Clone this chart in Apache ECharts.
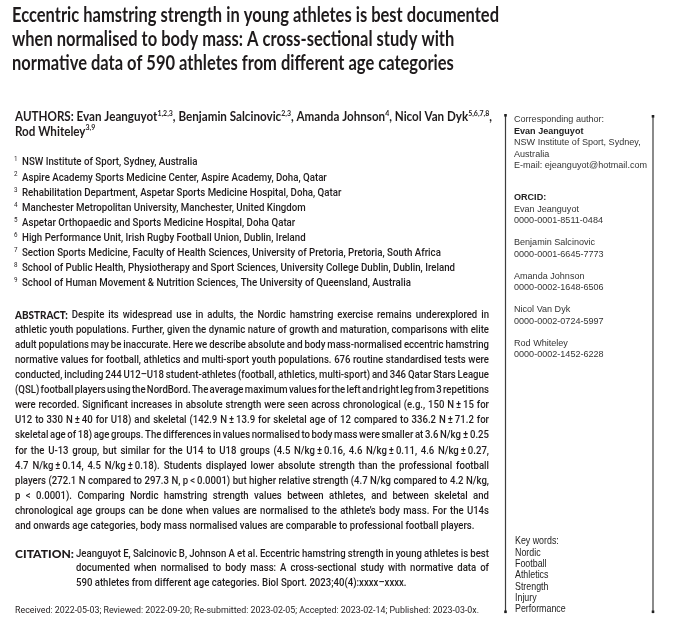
<!DOCTYPE html>
<html><head><meta charset="utf-8">
<script src="https://cdn.jsdelivr.net/npm/echarts@6/dist/echarts.min.js"></script>
<style>html,body{margin:0;padding:0;background:#fff}#c{width:680px;height:633px}</style>
</head><body><div id="c"></div>
<script>
// ---------- content ----------
const titleLines = [
  'Eccentric hamstring strength in young athletes is best documented',
  'when normalised to body mass: A cross-sectional study with',
  'normative data of 590 athletes from different age categories'
];
const authorLines = [
  'AUTHORS: Evan Jeanguyot^{1,2,3}, Benjamin Salcinovic^{2,3}, Amanda Johnson^{4}, Nicol Van Dyk^{5,6,7,8},',
  'Rod Whiteley^{3,9}'
];
const affiliations = [
  'NSW Institute of Sport, Sydney, Australia',
  'Aspire Academy Sports Medicine Center, Aspire Academy, Doha, Qatar',
  'Rehabilitation Department, Aspetar Sports Medicine Hospital, Doha, Qatar',
  'Manchester Metropolitan University, Manchester, United Kingdom',
  'Aspetar Orthopaedic and Sports Medicine Hospital, Doha Qatar',
  'High Performance Unit, Irish Rugby Football Union, Dublin, Ireland',
  'Section Sports Medicine, Faculty of Health Sciences, University of Pretoria, Pretoria, South Africa',
  'School of Public Health, Physiotherapy and Sport Sciences, University College Dublin, Dublin, Ireland',
  'School of Human Movement & Nutrition Sciences, The University of Queensland, Australia'
];
const abstractLines = [
  'ABSTRACT: Despite its widespread use in adults, the Nordic hamstring exercise remains underexplored in',
  'athletic youth populations. Further, given the dynamic nature of growth and maturation, comparisons with elite',
  'adult populations may be inaccurate. Here we describe absolute and body mass-normalised eccentric hamstring',
  'normative values for football, athletics and multi-sport youth populations. 676 routine standardised tests were',
  'conducted, including 244 U12\u2013U18 student-athletes (football, athletics, multi-sport) and 346 Qatar Stars League',
  '(QSL) football players using the NordBord. The average maximum values for the left and right leg from 3 repetitions',
  'were recorded. Significant increases in absolute strength were seen across chronological (e.g., 150 N\u2009\u00b1\u200915 for',
  'U12 to 330 N\u2009\u00b1\u200940 for U18) and skeletal (142.9 N\u2009\u00b1\u200913.9 for skeletal age of 12 compared to 336.2 N\u2009\u00b1\u200971.2 for',
  'skeletal age of 18) age groups. The differences in values normalised to body mass were smaller at 3.6 N/kg\u2009\u00b1\u20090.25',
  'for the U-13 group, but similar for the U14 to U18 groups (4.5 N/kg\u2009\u00b1\u20090.16, 4.6 N/kg\u2009\u00b1\u20090.11, 4.6 N/kg\u2009\u00b1\u20090.27,',
  '4.7 N/kg\u2009\u00b1\u20090.14, 4.5 N/kg\u2009\u00b1\u20090.18). Students displayed lower absolute strength than the professional football',
  'players (272.1 N compared to 297.3 N, p\u2009<\u20090.0001) but higher relative strength (4.7 N/kg compared to 4.2 N/kg,',
  'p < 0.0001). Comparing Nordic hamstring strength values between athletes, and between skeletal and',
  'chronological age groups can be done when values are normalised to the athlete\u2019s body mass. For the U14s',
  'and onwards age categories, body mass normalised values are comparable to professional football players.'
];
const citationLabel = 'CITATION:';
const citationLines = [
  'Jeanguyot E, Salcinovic B, Johnson A et al. Eccentric hamstring strength in young athletes is best',
  'documented when normalised to body mass: A cross-sectional study with normative data of',
  '590 athletes from different age categories. Biol Sport. 2023;40(4):xxxx\u2013xxxx.'
];
const receivedLine = 'Received: 2022-05-03; Reviewed: 2022-09-20; Re-submitted: 2023-02-05; Accepted: 2023-02-14; Published: 2023-03-0x.';
const correspondingLabel = 'Corresponding author:';
const correspondingName = 'Evan Jeanguyot';
const correspondingAddress = ['NSW Institute of Sport, Sydney,', 'Australia', 'E-mail: ejeanguyot@hotmail.com'];
const orcidLabel = 'ORCID:';
const orcidNames = ['Evan Jeanguyot', 'Benjamin Salcinovic', 'Amanda Johnson', 'Nicol Van Dyk', 'Rod Whiteley'];
const orcidIds = ['0000-0001-8511-0484', '0000-0001-6645-7773', '0000-0002-1648-6506', '0000-0002-0724-5997', '0000-0002-1452-6228'];
const keywordsLabel = 'Key words:';
const keywords = ['Nordic', 'Football', 'Athletics', 'Strength', 'Injury', 'Performance'];

// ---------- helpers ----------
const INK = '#1f1b1c';
const GREY = '#333333';
const F = {
  title: {family: 'Lato', weight: 'bold', size: 20},
  auth:  {family: 'Lato', weight: 'bold', size: 12.5},
  authSup: {family: 'Lato', weight: 'bold', size: 7.5},
  body:  {family: 'Roboto', weight: '500', size: 11.6},
  label: {family: 'Lato', weight: '900', size: 12},
  sup:   {family: 'Roboto', weight: 'normal', size: 7.5},
  small: {family: 'Roboto', weight: 'normal', size: 9.4},
  side:  {family: "'Liberation Sans'", weight: 'normal', size: 9.4},
  sideB: {family: "'Liberation Sans'", weight: 'bold', size: 9.4},
  kw:    {family: "'Liberation Sans'", weight: 'normal', size: 10.8}
};
const ctx = document.createElement('canvas').getContext('2d');
function fstr(f) { return 'normal ' + f.weight + ' ' + f.size + 'px ' + f.family; }
function mw(t, f) { ctx.font = fstr(f); return ctx.measureText(t).width; }

const els = [];
function txt(x, y, t, f, scale, color) {
  els.push({
    type: 'text', x: x, y: y, scaleX: scale, silent: true,
    style: {text: t, x: 0, y: 0, fontSize: f.size, fontFamily: f.family, fontWeight: f.weight,
            fill: color || INK, align: 'left', verticalAlign: 'middle'}
  });
}
// word -> segments (supports ^{...} superscripts and an UPPERCASE label)
function segs(word, base, sup, label, supRaise) {
  if (label && /^[A-Z]+:$/.test(word)) return [{t: word, f: label, dy: 0}];
  const out = []; const re = /\^\{([^}]*)\}/g; let last = 0, m;
  while ((m = re.exec(word))) {
    if (m.index > last) out.push({t: word.slice(last, m.index), f: base, dy: 0});
    out.push({t: m[1], f: sup, dy: -supRaise});
    last = re.lastIndex;
  }
  if (last < word.length) out.push({t: word.slice(last), f: base, dy: 0});
  return out;
}
function layoutLine(line, o) {
  const words = line.split(' ').map(w => {
    const s = segs(w, o.base, o.sup || o.base, o.label, o.supRaise || 0);
    s.forEach(x => x.w = mw(x.t, x.f));
    return {s: s, w: s.reduce((a, b) => a + b.w, 0)};
  });
  const sum = words.reduce((a, b) => a + b.w, 0);
  const space = mw(' ', o.base);
  return {words: words, sum: sum, natural: sum + space * (words.length - 1), space: space};
}
function drawLine(L, x, y, scale, width, color) {
  let gap = L.space;
  if (width && L.words.length > 1) gap = (width / scale - L.sum) / (L.words.length - 1);
  let p = 0;
  L.words.forEach(w => {
    let q = p;
    w.s.forEach(s => { txt(x + q * scale, y + s.dy, s.t, s.f, scale, color); q += s.w; });
    p += w.w + gap;
  });
}
// justified block: all lines except the last are stretched to width;
// the horizontal scale is set so the tightest line keeps a minimum word gap
function block(lines, o, xs, ys, width, justifyLast) {
  const Ls = lines.map(l => layoutLine(l, o));
  const n = justifyLast ? Ls.length : Ls.length - 1;
  const minGap = o.minGap == null ? 0.6 : o.minGap;
  let scale = Infinity;
  for (let i = 0; i < n; i++) {
    const L = Ls[i];
    scale = Math.min(scale, width(i) / (L.sum + minGap * L.space * (L.words.length - 1)));
  }
  if (o.scale) scale = o.scale;
  Ls.forEach((L, i) => drawLine(L, xs(i), ys(i), scale, i < n ? width(i) : null, o.color));
  return scale;
}

// ---------- title ----------
const titleScale = 487 / mw(titleLines[0], F.title);
titleLines.forEach((t, i) => txt(12, 15.5 + i * 24, t, F.title, titleScale));

// ---------- authors ----------
block(authorLines, {base: F.auth, sup: F.authSup, supRaise: 3.5, minGap: 1}, i => 15, i => 117 + i * 14.5, i => 477, false);

// ---------- affiliations ----------
const affScale = 433 / mw(affiliations[7], F.body);
affiliations.forEach((t, i) => {
  const y = 162.5 + i * 15.1;
  txt(14, y - 3, String(i + 1), F.sup, affScale);
  txt(22, y, t, F.body, affScale);
});

// ---------- abstract ----------
block(abstractLines, {base: F.body, label: F.label, minGap: 0.55}, i => 15, i => 315 + i * 15.07, i => 474, false);

// ---------- citation ----------
const labW = mw(citationLabel, F.label);
txt(15, 554, citationLabel, F.label, 59 / labW);
block(citationLines, {base: F.body, minGap: 0.9}, i => 76, i => 554 + i * 14.5, i => 413, false);

// ---------- received ----------
txt(15, 611, receivedLine, F.small, 464 / mw(receivedLine, F.small));

// ---------- side panel ----------
const sideScale = 133 / mw(correspondingAddress[2], F.side);
const SX = 514;
txt(SX, 119.5, correspondingLabel, F.side, sideScale, GREY);
txt(SX, 131, correspondingName, F.sideB, sideScale, '#222');
correspondingAddress.forEach((t, i) => txt(SX, 142.5 + i * 11.5, t, F.side, sideScale, GREY));
txt(SX, 197, orcidLabel, F.sideB, sideScale, '#222');
orcidNames.forEach((n, i) => {
  const y = 209 + i * 33.6;
  txt(SX, y, n, F.side, sideScale, GREY);
  txt(SX, y + 11.5, orcidIds[i], F.side, sideScale, GREY);
});
const kwScale = 50.7 / mw(keywords[5], F.kw);
txt(515, 541.5, keywordsLabel, F.kw, kwScale, '#222');
keywords.forEach((k, i) => txt(515, 553 + i * 11.25, k, F.kw, kwScale, '#222'));

// ---------- rules ----------
[[505.5, 115, 612], [653, 116, 612]].forEach(r => {
  els.push({type: 'line', silent: true, shape: {x1: r[0], y1: r[1], x2: r[0], y2: r[2]}, style: {stroke: '#3d3d3d', lineWidth: 1.2}});
  els.push({type: 'rect', silent: true, shape: {x: r[0] - 1.3, y: r[1] - 1, width: 2.6, height: 2.6}, style: {fill: '#222'}});
  els.push({type: 'rect', silent: true, shape: {x: r[0] - 1.3, y: r[2] - 1.5, width: 2.6, height: 2.6}, style: {fill: '#222'}});
});

const chart = echarts.init(document.getElementById('c'), null, {renderer: 'canvas'});
chart.setOption({backgroundColor: '#ffffff', animation: false, graphic: {elements: els}});
</script></body></html>
